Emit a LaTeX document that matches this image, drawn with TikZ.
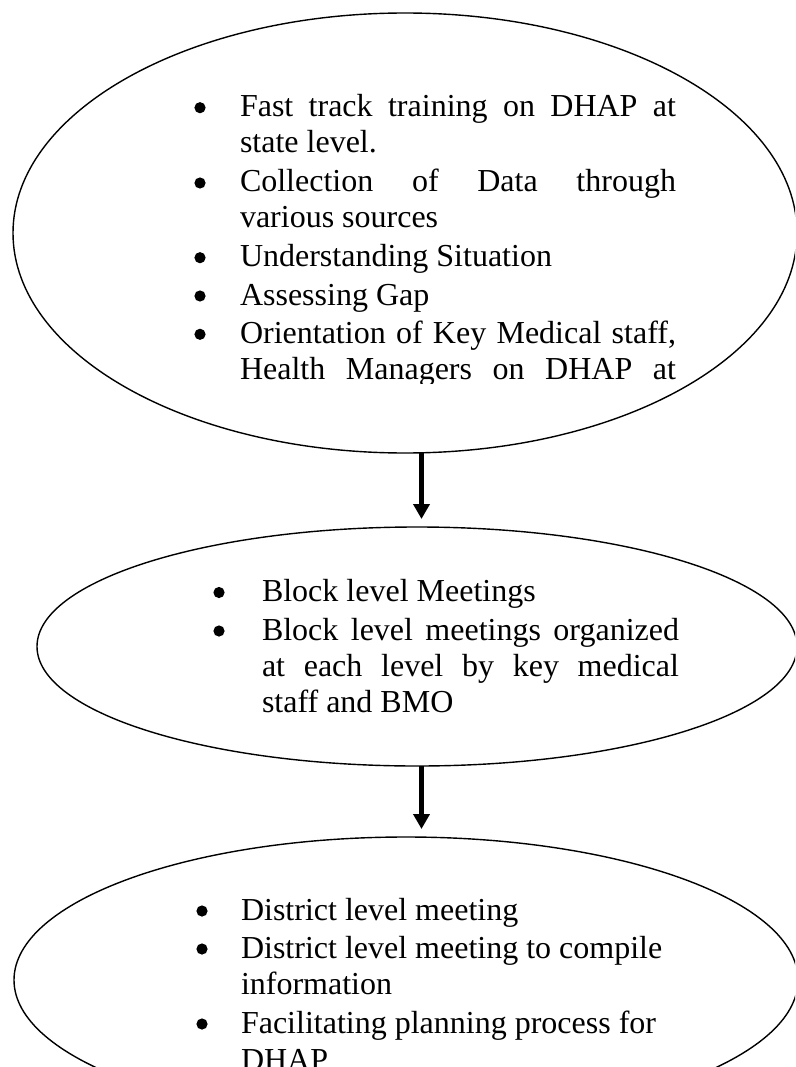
\documentclass[tikz,border=0pt]{standalone}
\usepackage{fontspec}
\setmainfont{Liberation Serif}
\usetikzlibrary{shapes.geometric,arrows.meta}
% a justified line of given width
\newcommand\fullline[2]{\makebox[#1][s]{#2}}
\begin{document}
\begin{tikzpicture}[x=1pt,y=-1pt,
  stage/.style={ellipse, draw, line width=1.4pt, inner sep=0pt, outer sep=0pt},
  item/.style={anchor=base west, inner sep=0pt, outer sep=0pt,
               font=\fontsize{32}{36}\selectfont},
  flow/.style={line width=5pt, -{Triangle[width=16pt,length=15pt]}, shorten >=8pt}]
\useasboundingbox (0,0) rectangle (795,1067);
\clip (0,0) rectangle (795,1067);

% the three stages
\node[stage, minimum width=784pt, minimum height=440pt] (e1) at (405,233) {};
\node[stage, minimum width=760pt, minimum height=239pt] (e2) at (417,646.5) {};
\node[stage, minimum width=784pt, minimum height=286pt] (e3) at (406,980) {};

% stage 1: state level preparation
\begin{scope}
\clip (0,0) rectangle (795,383);
\foreach \b in {116.7,192,266.7,305,343.3} \fill (200,\b-9) circle (5.6);
\node[item] (s1a) at (240,116.7) {\parbox[t]{436pt}{\fullline{436pt}{Fast track training on DHAP at}\\state level.}};
\node[item] (s1b) at (240,192) {\parbox[t]{436pt}{\fullline{436pt}{Collection of Data through}\\various sources}};
\node[item] (s1c) at (240,266.7) {Understanding Situation};
\node[item] (s1d) at (240,305) {Assessing Gap};
\node[item] (s1e) at (240,343.3) {\parbox[t]{436pt}{\fullline{436pt}{Orientation of Key Medical staff,}\\\fullline{436pt}{Health Managers on DHAP at}}};
\end{scope}

% stage 2: block level
\foreach \b in {601.5,640} \fill (219,\b-9) circle (5.6);
\node[item] (s2a) at (262,601.5) {Block level Meetings};
\node[item] (s2b) at (262,640) {\parbox[t]{417pt}{\fullline{417pt}{Block level meetings organized}\\\fullline{417pt}{at each level by key medical}\\staff and BMO}};

% stage 3: district level
\foreach \b in {920,958,1033} \fill (202,\b-9) circle (5.6);
\node[item] (s3a) at (241,920) {District level meeting};
\node[item] (s3b) at (241,958) {\parbox[t]{440pt}{District level meeting to compile\\information}};
\node[item] (s3c) at (241,1033) {\parbox[t]{440pt}{Facilitating planning process for\\[1pt]DHAP}};

% connectors
\coordinate (ax) at (421.5,0);
\draw[flow] (e1.south -| ax) -- (e2.north -| ax);
\draw[flow] (e2.south -| ax) -- (e3.north -| ax);
\end{tikzpicture}
\end{document}
